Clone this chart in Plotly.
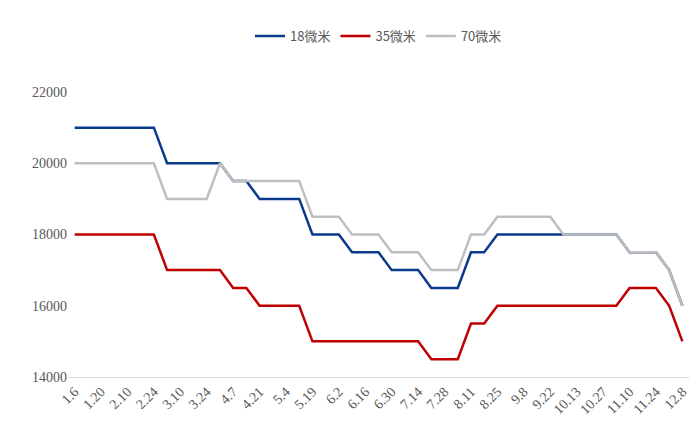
import plotly.graph_objects as go

dates = ["1.6","1.13","1.20","2.3","2.10","2.17","2.24","3.3","3.10","3.17","3.24","3.31",
         "4.7","4.14","4.21","4.28","5.4","5.12","5.19","5.26","6.2","6.9","6.16","6.23",
         "6.30","7.7","7.14","7.21","7.28","8.4","8.11","8.18","8.25","9.1","9.8","9.15",
         "9.22","9.29","10.13","10.20","10.27","11.3","11.10","11.17","11.24","12.1","12.8"]
s18 = [21000]*7 + [20000]*5 + [19500]*2 + [19000]*4 + [18000]*3 + [17500]*3 + [17000]*3 + \
      [16500]*3 + [17500]*2 + [18000]*10 + [17500]*3 + [17000, 16000]
s35 = [18000]*7 + [17000]*5 + [16500]*2 + [16000]*4 + [15000]*9 + [14500]*3 + [15500]*2 + \
      [16000]*10 + [16500]*3 + [16000, 15000]
s70 = [20000]*7 + [19000]*4 + [20000] + [19500]*6 + [18500]*3 + [18000]*3 + [17500]*3 + \
      [17000]*3 + [18000]*2 + [18500]*5 + [18000]*5 + [17500]*3 + [17000, 16000]
names = ["18微米", "35微米", "70微米"]
colors = ["#0a3a8c", "#c00000", "#bfbfbf"]

x = list(range(len(dates)))
fig = go.Figure()
for n, s, c in zip(names, [s18, s35, s70], colors):
    fig.add_trace(go.Scatter(x=x, y=s, name=n, mode="lines", line=dict(color=c, width=2.5)))

fig.update_layout(
    width=700, height=426, paper_bgcolor="white", plot_bgcolor="white",
    margin=dict(l=60, r=19, t=84, b=57, autoexpand=False),
    legend=dict(orientation="h", x=0.5, xanchor="center", y=1.196, yanchor="middle",
                font=dict(family="Noto Sans CJK SC", size=13, color="#595959")),
    font=dict(family="Liberation Serif", size=14, color="#595959"),
)
fig.update_xaxes(range=[-0.5, len(dates) - 0.5], tickmode="array", automargin=False,
                 tickvals=x[::2], ticktext=dates[::2], tickangle=-45,
                 showgrid=False, showline=True, linecolor="#d9d9d9", ticks="",
                 tickfont=dict(family="Liberation Serif", size=14))
fig.update_yaxes(range=[14000, 22000], dtick=2000, showgrid=False, zeroline=False,
                 showline=False, ticks="", tickformat="d", automargin=False,
                 tickfont=dict(family="Liberation Serif", size=14))
fig.write_html("out.html")
